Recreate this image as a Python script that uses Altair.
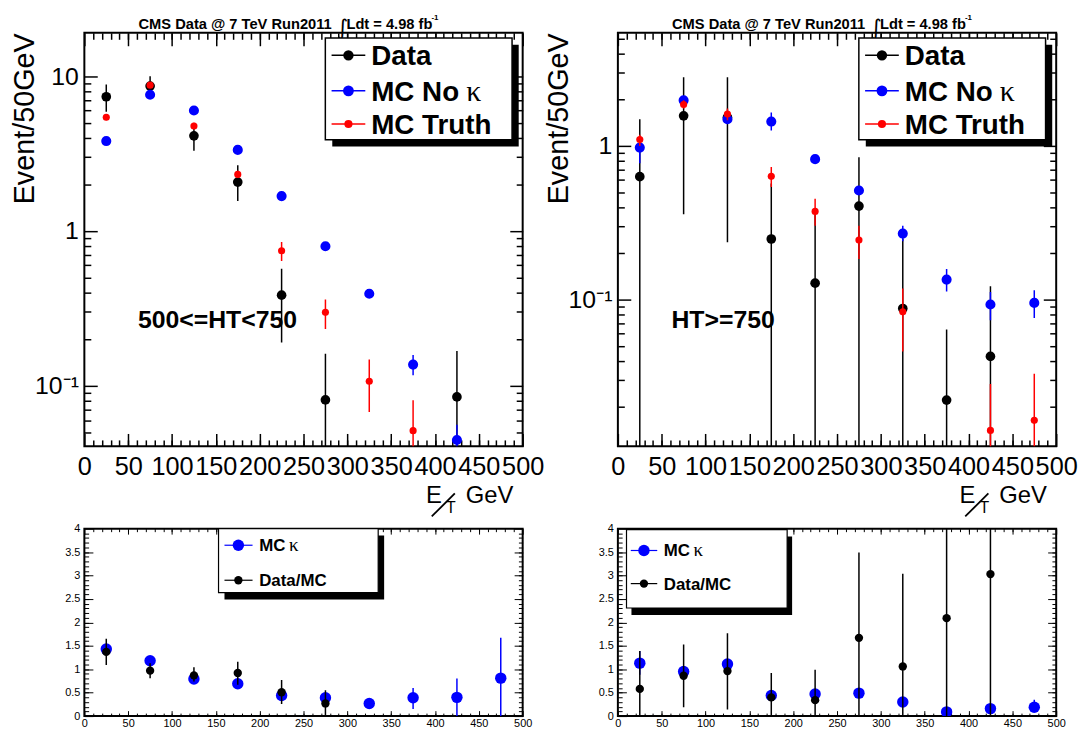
import altair as alt
import pandas as pd

BINS = [25, 75, 125, 175, 225, 275, 325, 375, 425, 475]

# ---------- top-left: 500<=HT<750 ----------
TL_DATA    = [7.37, 8.63, 4.12, 2.07, 0.385, 0.081, None, None, 0.0847, None]
TL_DATA_LO = [5.9, 7.3, 3.3, 1.56, 0.19, 0.001, None, None, 0.001, None]
TL_DATA_HI = [8.85, 10.0, 4.85, 2.66, 0.57, 0.161, None, None, 0.168, None]
TL_NOK     = [3.81, 7.59, 6.0, 3.34, 1.68, 0.797, 0.393, 0.137, 0.0446, None]
TL_NOK_LO  = [3.7, 7.4, 5.85, 3.25, 1.63, 0.77, 0.375, 0.117, 0.001, None]
TL_NOK_HI  = [3.92, 7.78, 6.15, 3.43, 1.73, 0.825, 0.41, 0.158, 0.056, None]
TL_TRU     = [5.43, 8.75, 4.77, 2.32, 0.745, 0.298, 0.107, 0.0513, None, None]
TL_TRU_LO  = [5.2, 8.4, 4.55, 2.2, 0.64, 0.233, 0.0678, 0.001, None, None]
TL_TRU_HI  = [5.7, 9.1, 5.0, 2.45, 0.85, 0.361, 0.148, 0.0805, None, None]

# ---------- top-right: HT>=750 ----------
TR_DATA    = [0.631, 1.57, 1.53, 0.248, 0.128, 0.406, 0.0875, 0.0222, 0.0427, None]
TR_DATA_LO = [0.001, 0.359, 0.236, 0.001, 0.001, 0.001, 0.001, 0.001, 0.001, None]
TR_DATA_HI = [1.49, 2.8, 2.8, 0.57, 0.37, 0.845, 0.25, 0.064, 0.122, None]
TR_NOK     = [0.975, 1.98, 1.49, 1.44, 0.82, 0.513, 0.269, 0.135, 0.093, 0.0952]
TR_NOK_LO  = [0.77, 1.9, 1.43, 1.26, 0.79, 0.49, 0.24, 0.113, 0.0735, 0.076]
TR_NOK_HI  = [1.15, 2.06, 1.56, 1.65, 0.85, 0.54, 0.302, 0.158, 0.112, 0.115]
TR_TRU     = [1.10, 1.86, 1.61, 0.634, 0.375, 0.244, 0.0833, None, 0.0141, 0.0164]
TR_TRU_LO  = [1.0, 1.75, 1.47, 0.54, 0.302, 0.184, 0.046, None, 0.001, 0.001]
TR_TRU_HI  = [1.18, 1.98, 1.75, 0.73, 0.453, 0.302, 0.118, None, 0.0283, 0.033]

# ---------- bottom-left ratios ----------
BL_K     = [1.43, 1.18, 0.79, 0.69, 0.44, 0.39, 0.27, 0.39, 0.40, 0.81]
BL_K_LO  = [1.36, 1.12, 0.74, 0.64, 0.39, 0.34, 0.23, 0.15, 0.0, 0.0]
BL_K_HI  = [1.50, 1.24, 0.84, 0.74, 0.49, 0.44, 0.31, 0.60, 0.80, 1.67]
BL_R     = [1.37, 0.97, 0.87, 0.92, 0.51, 0.27, None, None, None, None]
BL_R_LO  = [1.09, 0.81, 0.74, 0.67, 0.26, 0.0, None, None, None, None]
BL_R_HI  = [1.65, 1.13, 1.04, 1.16, 0.77, 0.55, None, None, None, None]

# ---------- bottom-right ratios ----------
BR_K     = [1.13, 0.95, 1.11, 0.44, 0.47, 0.49, 0.30, 0.09, 0.16, 0.19]
BR_K_LO  = [0.88, 0.90, 1.06, 0.40, 0.43, 0.45, 0.26, 0.05, 0.12, 0.14]
BR_K_HI  = [1.39, 1.00, 1.16, 0.48, 0.51, 0.53, 0.34, 0.13, 0.20, 0.35]
BR_R     = [0.58, 0.86, 0.96, 0.40, 0.34, 1.67, 1.06, 2.09, 3.03, None]
BR_R_LO  = [0.0, 0.19, 0.14, 0.0, 0.0, 0.0, 0.0, 0.0, 0.0, None]
BR_R_HI  = [1.39, 1.53, 1.77, 0.92, 0.99, 3.49, 3.04, 4.5, 4.5, None]

TOP_NAMES = ["Data", "MC No", "MC Truth"]
BOT_NAMES = ["MC", "Data/MC"]
TITLE_A = "CMS Data @ 7 TeV Run2011"
TITLE_B = "Ldt = 4.98 fb"
HT_LEFT = "500<=HT<750"
HT_RIGHT = "HT>=750"

FONT = "Liberation Sans"
SERIF = "Liberation Serif, DejaVu Serif, serif"
DUMMY = pd.DataFrame({"d": [0]})

TW, TH = 442, 417
BW, BH = 442, 189


def frame(vals, lo, hi):
    rows = [dict(x=b, v=v, lo=l, hi=h) for b, v, l, h in zip(BINS, vals, lo, hi) if v is not None]
    return pd.DataFrame(rows)


def axis(orient, values, size, width, labels=False, lsize=11, lpad=2, fmt=None, expr=None):
    kw = dict(orient=orient, values=values, tickSize=size, offset=-size, tickWidth=width,
              tickColor="black", domain=False, grid=False, title=None, labels=labels)
    if labels:
        kw.update(labelFont=FONT, labelFontSize=lsize, labelColor="black",
                  labelPadding=lpad, labelOverlap=False, labelFlush=False)
        if fmt:
            kw["format"] = fmt
        if expr:
            kw["labelExpr"] = expr
    return alt.Axis(**kw)


def txt(text, x, y, size, weight="normal", font=FONT, align="left", baseline="alphabetic", angle=0):
    return alt.Chart(DUMMY).mark_text(
        text=text, fontSize=size, fontWeight=weight, font=font, align=align,
        baseline=baseline, angle=angle, color="black"
    ).encode(x=alt.value(x), y=alt.value(y))


def box(x1, x2, y1, y2, fill, stroke=None, sw=0):
    kw = dict(fill=fill)
    if stroke:
        kw.update(stroke=stroke, strokeWidth=sw)
    return alt.Chart(DUMMY).mark_rect(**kw).encode(
        x=alt.value(x1), x2=alt.value(x2), y=alt.value(y1), y2=alt.value(y2))


def seg(x1, x2, y1, y2, color="black", sw=1.5):
    return alt.Chart(DUMMY).mark_rule(color=color, strokeWidth=sw).encode(
        x=alt.value(x1), x2=alt.value(x2), y=alt.value(y1), y2=alt.value(y2))


def dot(x, y, color, size):
    return alt.Chart(DUMMY).mark_circle(color=color, size=size, opacity=1).encode(
        x=alt.value(x), y=alt.value(y))


def series_layers(series, xs, ys, plan):
    layers = []
    k = 0
    for vals, lo, hi, color, size in series:
        df = frame(vals, lo, hi)
        ax_x, ax_y = plan[k]
        k += 1
        layers.append(alt.Chart(df).mark_rule(color=color, strokeWidth=1.5, clip=True).encode(
            x=alt.X("x:Q", scale=xs, axis=ax_x),
            y=alt.Y("lo:Q", scale=ys, axis=ax_y),
            y2="hi:Q"))
        ax_x, ax_y = plan[k]
        k += 1
        layers.append(alt.Chart(df).mark_circle(color=color, size=size, opacity=1, clip=True).encode(
            x=alt.X("x:Q", scale=xs, axis=ax_x),
            y=alt.Y("v:Q", scale=ys, axis=ax_y)))
    return layers


XMAJ = list(range(0, 501, 50))
XMIN = list(range(10, 500, 10))


def top_panel(series, ydom, ymaj, ymin, yexpr, ht, anchor=False):
    xs = alt.Scale(domain=[0, 500], nice=False, zero=False)
    ys = alt.Scale(type="log", domain=ydom, nice=False)
    plan = [
        (axis("bottom", XMAJ, 13, 1.5, True, 25.5, 8, fmt="d"),
         axis("left", ymaj, 13, 1.5, True, 25, 6, expr=yexpr)),
        (axis("bottom", XMIN, 6.5, 1.5), axis("left", ymin, 6.5, 1.5)),
        (axis("top", XMAJ, 13, 1.5), axis("right", ymaj, 13, 1.5)),
        (axis("top", XMIN, 6.5, 1.5), axis("right", ymin, 6.5, 1.5)),
        (None, None), (None, None)]
    layers = series_layers(series, xs, ys, plan)
    deco = [
        txt("Event/50GeV", -59.5, 86.7, 29, align="center", baseline="middle", angle=270),
        txt(TITLE_A, 54.6, -4.3, 14.8, "bold"),
        txt("\u222b", 254.5, 2, 22, font="DejaVu Sans"),
        txt(TITLE_B, 264.3, -4.3, 14.8, "bold"),
        txt("-1", 350, -12.5, 8, "bold"),
        txt(ht, 54, 297.4, 25, "bold"),
        txt("E", 344.6, 474.4, 24),
        txt("T", 364.6, 484.4, 16),
        txt("GeV", 384.6, 474.4, 24),
        seg(373.6, 350.3, 464.4, 487.7, sw=1.8),
        # legend
        box(250, 438, 12, 114.7, "black"),
        box(243, 431.3, 5.2, 107.7, "white", "black", 1.5),
    ]
    colors = [s[3] for s in series]
    sizes = [s[4] for s in series]
    rows = [22.7, 58.5, 91.9]
    for name, c, sz, yy in zip(TOP_NAMES, colors, sizes, rows):
        deco.append(seg(249.3, 283.3, yy, yy, color=c, sw=1.5))
        deco.append(dot(266.3, yy, c, sz + 15))
        deco.append(txt(name, 289.3, yy + 10, 28, "bold"))
    deco.append(txt("\u03ba", 385, rows[1] + 10, 30, font=SERIF))
    if anchor:
        deco.append(alt.Chart(DUMMY).mark_rule(strokeOpacity=0, color="white").encode(
            x=alt.value(-75.2), y=alt.value(-23.8), y2=alt.value(-20)))
    return alt.layer(*layers, *deco).resolve_axis(x="independent", y="independent").properties(
        width=TW, height=TH)


def bottom_panel(series, leg):
    xs = alt.Scale(domain=[0, 500], nice=False, zero=False)
    ys = alt.Scale(domain=[0, 4], nice=False, zero=False)
    YMAJ = [0, 0.5, 1, 1.5, 2, 2.5, 3, 3.5, 4]
    YMIN = [round(i * 0.1, 1) for i in range(1, 40)]
    plan = [
        (axis("bottom", XMAJ, 5.5, 1, True, 11, 1.5, fmt="d"),
         axis("left", YMAJ, 8.6, 1, True, 11, 4.5, fmt="~g")),
        (axis("bottom", XMIN, 3, 1), axis("left", YMIN, 4.3, 1)),
        (axis("top", XMAJ, 5.5, 1), axis("right", YMAJ, 8.6, 1)),
        (axis("top", XMIN, 3, 1), axis("right", YMIN, 4.3, 1))]
    layers = series_layers(series, xs, ys, plan)
    bx1, bx2, by1, by2, sdx, sdy, rows, mk, l1, l2, tx = leg
    deco = [
        box(bx1 + sdx, bx2 + sdx, by1 + sdy, by2 + sdy, "black"),
        box(bx1, bx2, by1, by2, "white", "black", 1.2),
    ]
    colors = [s[3] for s in series]
    sizes = [s[4] for s in series]
    for name, c, sz, yy in zip(BOT_NAMES, colors, sizes, rows):
        deco.append(seg(l1, l2, yy, yy, color=c, sw=1.2))
        deco.append(dot(mk, yy, c, sz))
        deco.append(txt(name, tx, yy + 6, 17, "bold"))
    deco.append(txt("\u03ba", tx + 30, rows[0] + 6, 19, font=SERIF))
    return alt.layer(*layers, *deco).resolve_axis(x="independent", y="independent").properties(
        width=BW, height=BH)


tl = top_panel(
    [(TL_DATA, TL_DATA_LO, TL_DATA_HI, "black", 95),
     (TL_NOK, TL_NOK_LO, TL_NOK_HI, "#0000ff", 104),
     (TL_TRU, TL_TRU_LO, TL_TRU_HI, "#ff0000", 52)],
    [0.0406, 19.06], [0.1, 1, 10],
    [0.05, 0.06, 0.07, 0.08, 0.09, 0.2, 0.3, 0.4, 0.5, 0.6, 0.7, 0.8, 0.9,
     2, 3, 4, 5, 6, 7, 8, 9],
    "datum.value == 10 ? '10' : datum.value == 1 ? '1' : '10\u207b\u00b9'",
    HT_LEFT, anchor=True)

tr = top_panel(
    [(TR_DATA, TR_DATA_LO, TR_DATA_HI, "black", 95),
     (TR_NOK, TR_NOK_LO, TR_NOK_HI, "#0000ff", 104),
     (TR_TRU, TR_TRU_LO, TR_TRU_HI, "#ff0000", 52)],
    [0.0111, 5.44], [0.1, 1],
    [0.02, 0.03, 0.04, 0.05, 0.06, 0.07, 0.08, 0.09, 0.2, 0.3, 0.4, 0.5, 0.6,
     0.7, 0.8, 0.9, 2, 3, 4, 5],
    "datum.value == 1 ? '1' : '10\u207b\u00b9'",
    HT_RIGHT)

bl = bottom_panel(
    [(BL_K, BL_K_LO, BL_K_HI, "#0000ff", 133),
     (BL_R, BL_R_LO, BL_R_HI, "black", 71)],
    (135.3, 296.3, 0, 64.4, 6, 7, [16.7, 52.0], 155.3, 141.3, 169.6, 176.3))

br = bottom_panel(
    [(BR_K, BR_K_LO, BR_K_HI, "#0000ff", 133),
     (BR_R, BR_R_LO, BR_R_HI, "black", 71)],
    (8.7, 170.7, 1, 80, 5, 7, [22.0, 55.4], 26.3, 13, 39.7, 46.3))

chart = alt.concat(
    tl, tr, bl, br, columns=2, spacing={"row": 83, "column": 96}, bounds="flush"
).properties(
    padding={"left": 0, "top": -3, "right": 0, "bottom": 0}, background="white"
).configure_view(stroke="black", strokeWidth=2)

chart.save("out.html", embed_options={"renderer": "svg", "actions": False})
